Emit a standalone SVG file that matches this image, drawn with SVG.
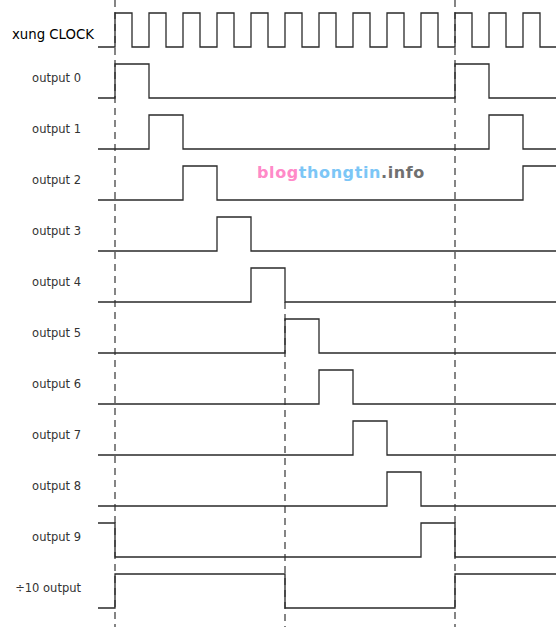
<svg xmlns="http://www.w3.org/2000/svg" width="556" height="627" viewBox="0 0 556 627">
<style>
.bg{fill:#ffffff}
.wave{fill:none;stroke:#2a2a2a;stroke-width:1.3;stroke-linejoin:miter}
.guide{fill:none;stroke:#222;stroke-width:1.1;stroke-dasharray:7 5}
.lbl{font-family:"DejaVu Sans",Verdana,sans-serif;font-size:11.5px;fill:#333;text-anchor:end}
.clk{font-family:"DejaVu Sans",Verdana,sans-serif;font-size:13.3px;fill:#000;text-anchor:end}
.wm{font-family:"DejaVu Sans",Verdana,sans-serif;font-size:16px;font-weight:bold;letter-spacing:0.6px}
</style>
<rect class="bg" x="0" y="0" width="556" height="627"/>
<g id="guides">
<line class="guide" x1="115" y1="0" x2="115" y2="627"/>
<line class="guide" x1="455" y1="0" x2="455" y2="627"/>
<line class="guide" x1="285" y1="302" x2="285" y2="627"/>
</g>
<g id="clock">
<text class="clk" x="94" y="39">xung CLOCK</text>
<path class="wave" d="M98,47H115V13H132V47H149V13H166V47H183V13H200V47H217V13H234V47H251V13H268V47H285V13H302V47H319V13H336V47H353V13H370V47H387V13H404V47H421V13H438V47H455V13H472V47H489V13H506V47H523V13H540V47H556"/>
</g>
<g id="output0">
<text class="lbl" x="81" y="82">output 0</text>
<path class="wave" d="M98,98H115V64H149V98H455V64H489V98H556"/>
</g>
<g id="output1">
<text class="lbl" x="81" y="133">output 1</text>
<path class="wave" d="M98,149H149V115H183V149H489V115H523V149H556"/>
</g>
<g id="output2">
<text class="lbl" x="81" y="184">output 2</text>
<path class="wave" d="M98,200H183V166H217V200H523V166H556"/>
</g>
<g id="output3">
<text class="lbl" x="81" y="235">output 3</text>
<path class="wave" d="M98,251H217V217H251V251H556"/>
</g>
<g id="output4">
<text class="lbl" x="81" y="286">output 4</text>
<path class="wave" d="M98,302H251V268H285V302H556"/>
</g>
<g id="output5">
<text class="lbl" x="81" y="337">output 5</text>
<path class="wave" d="M98,353H285V319H319V353H556"/>
</g>
<g id="output6">
<text class="lbl" x="81" y="388">output 6</text>
<path class="wave" d="M98,404H319V370H353V404H556"/>
</g>
<g id="output7">
<text class="lbl" x="81" y="439">output 7</text>
<path class="wave" d="M98,455H353V421H387V455H556"/>
</g>
<g id="output8">
<text class="lbl" x="81" y="490">output 8</text>
<path class="wave" d="M98,506H387V472H421V506H556"/>
</g>
<g id="output9">
<text class="lbl" x="81" y="541">output 9</text>
<path class="wave" d="M98,523H115V557H421V523H455V557H556"/>
</g>
<g id="div10">
<text class="lbl" x="81" y="592">÷10 output</text>
<path class="wave" d="M98,608H115V574H285V608H455V574H556"/>
</g>
<g id="watermark">
<text class="wm" x="257" y="178"><tspan fill="#ff8ac8">blog</tspan><tspan fill="#7cc6f6">thongtin</tspan><tspan fill="#707070">.info</tspan></text>
</g>
</svg>
